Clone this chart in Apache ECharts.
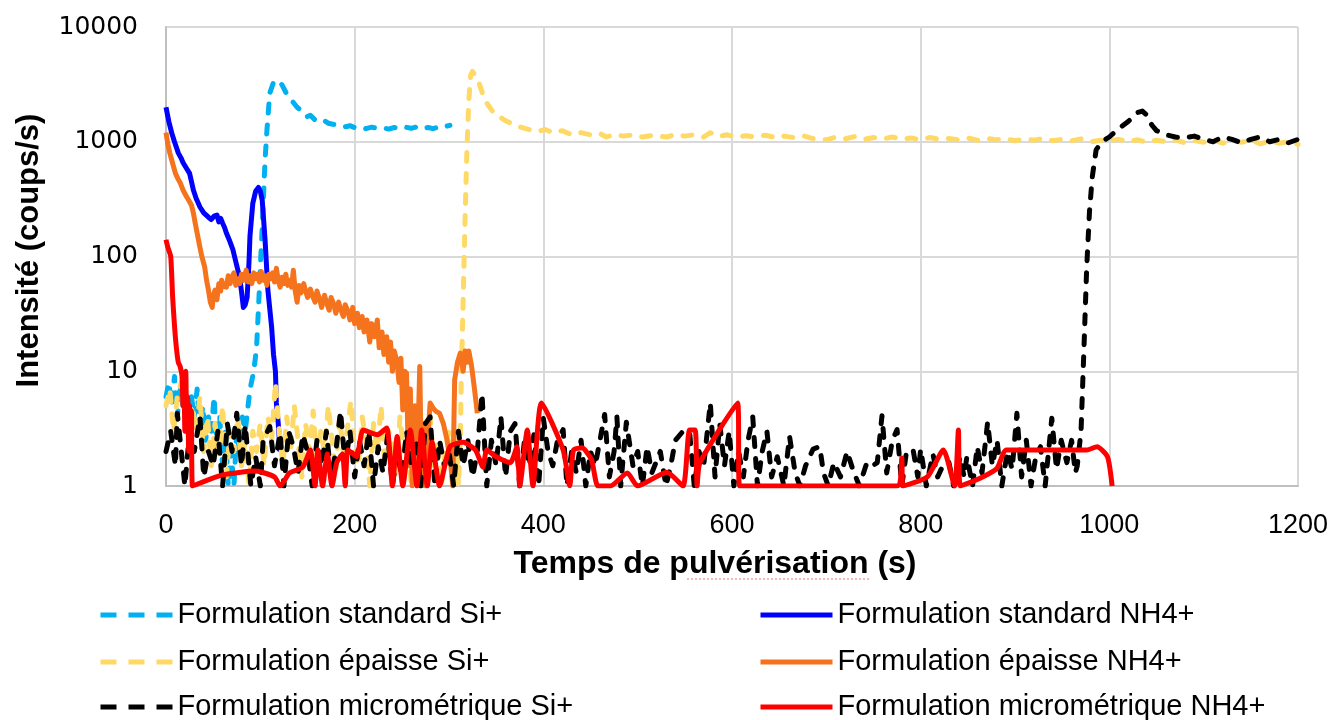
<!DOCTYPE html>
<html>
<head>
<meta charset="utf-8">
<script src="https://cdn.jsdelivr.net/npm/echarts@6/dist/echarts.min.js"></script>
<style>
  html, body { margin: 0; padding: 0; background: #fff; }
  #chart { width: 1333px; height: 720px; }
</style>
</head>
<body>
<div id="chart"></div>
<script>
// tick labels
var xTicks = [0, 200, 400, 600, 800, 1000, 1200];
var yTicks = [1, 10, 100, 1000, 10000];

// Formulation standard Si+  [temps (s), coups/s]
var stdSi = [
  [0,6],[3,8],[6,5],[9,9],[12,4],[15,7],[18,5],[21,6],[24,3],[27,6],[30,4],[33,7],[36,3],[39,5],
  [42,2.5],[45,4],[48,3],[51,6],[54,2],[57,4],[60,1.5],[63,3],[66,1],[69,2],[72,1],[75,3],[78,2],
  [81,4],[84,3],[87,5],[89,6.9],[93,10],[96,16],[98,35],[100,81],[102,180],[105,690],[107,1260],
  [110,2650],[114,3300],[117,3450],[120,3300],[123,3130],[127,2700],[131,2400],[135,2200],[139,2000],
  [144,1850],[149,1650],[153,1700],[158,1550],[163,1500],[167,1540],[172,1450],[177,1420],[184,1400],
  [190,1350],[195,1380],[200,1330],[206,1350],[212,1300],[218,1340],[224,1310],[230,1320],[236,1290],
  [242,1330],[248,1300],[254,1340],[260,1310],[266,1350],[272,1300],[278,1330],[283,1300],[288,1340],
  [293,1320],[298,1370],[301,1390]
];

// Formulation standard NH4+
var stdNH4 = [
  [0,2000],[3,1500],[6,1200],[9,1000],[13,800],[16,720],[18,660],[21,600],[25,530],[27,450],[29,380],
  [32,320],[36,270],[40,240],[45,220],[48,210],[51,225],[54,230],[56,200],[58,215],[60,195],[62,180],
  [64,160],[67,140],[71,114],[74,90],[78,66],[80,50],[82,36],[84,38],[86,44],[88,90],[89,150],[92,290],
  [95,370],[98,400],[100,370],[102,310],[105,140],[108,51],[112,24],[114,14],[116,10],[117,5.3],
  [119,3.5],[121,2]
];

// Formulation épaisse Si+
var epSi = [
  [0,5],[4,7],[8,3],[12,6],[16,8],[20,4],[24,2.5],[28,5],[32,3],[36,6],
  [40,2],[44,4],[48,1.5],[52,3.5],[56,2],[60,5],[64,1.2],[68,3],[72,2],[76,4],
  [80,1.5],[84,2.5],[88,1],[92,3],[96,2],[100,3.5],[104,1.5],[108,4],[112,2.5],[116,8],
  [120,3],[124,1.5],[128,4],[132,2],[136,5],[140,2.5],[144,1.2],[148,3.5],[152,2],[156,4.5],
  [160,1.5],[164,3],[168,2],[172,5],[176,2.5],[180,1.3],[184,4],[188,2],[192,3],[196,5.5],
  [200,2],[204,1.5],[208,4],[212,2.5],[216,1],[220,3.5],[224,2],[228,5],[232,1.5],[236,3],
  [240,2.5],[244,1.2],[248,4],[252,2],[256,3],[260,1],[264,2.5],[268,1.5],[272,3.5],[276,2],
  [280,4],[284,1.5],[288,2.5],[292,1],[296,2],[300,3],[304,1.5],[308,2.5],[310,1],[312,2.5],
  [313,8.4],[315,42],[317,208],[319,850],[321,2300],[323,3800],[325,4100],[331,3400],[338,2300],
  [347,1800],[359,1540],[372,1370],[386,1270],[394,1230],[402,1280],[410,1200],[420,1250],[430,1150],
  [440,1200],[450,1150],[460,1180],[467,1100],[475,1160],[485,1120],[495,1150],[505,1100],[515,1130],
  [531,1100],[540,1160],[550,1120],[560,1150],[570,1100],[577,1200],[585,1110],[595,1150],[605,1090],
  [615,1130],[625,1100],[635,1140],[648,1080],[655,1120],[665,1090],[675,1130],[685,1070],[700,1040],
  [710,1100],[720,1060],[730,1110],[740,1050],[750,1090],[760,1060],[770,1100],[780,1050],[790,1080],
  [800,1040],[810,1090],[820,1050],[830,1070],[840,1040],[850,1080],[860,1030],[870,1070],[880,1040],
  [890,1060],[900,1020],[910,1060],[920,1030],[930,1070],[940,1020],[950,1050],[960,1020],[970,1060],
  [980,1000],[990,1030],[1000,1020],[1010,1050],[1020,1000],[1030,1040],[1040,990],[1050,1030],
  [1060,1000],[1070,1040],[1080,980],[1090,1030],[1100,990],[1110,1040],[1120,970],[1130,1020],
  [1140,990],[1150,1030],[1160,960],[1170,1010],[1180,970],[1190,1000],[1200,950]
];

// Formulation épaisse NH4+
var epNH4 = [
  [0,1200],[2,950],[4,800],[7,650],[10,530],[13,470],[15,440],[18,380],[22,330],[25,300],[27,280],
  [29,240],[31,195],[33,160],[36,120],[38,100],[41,81],[43,62],[45,51],[47,40],[49,36],[50,45],[52,51],
  [54,42],[56,58],[58,50],[59,62],[61,55],[64,54],[66,68],[68,58],[70,66],[72,72],[74,56],[76,64],
  [78,58],[80,70],[82,62],[85,76],[87,60],[89,68],[91,58],[93,72],[95,64],[97,70],[99,60],[101,74],
  [103,62],[105,68],[107,56],[109,70],[111,64],[113,72],[115,60],[117,79],[119,62],[121,54],[123,66],
  [125,58],[127,70],[129,56],[131,62],[133,54],[135,76],[137,50],[139,40],[141,56],[143,48],[146,58],
  [148,50],[150,44],[153,52],[155,46],[158,40],[160,50],[163,42],[165,36],[168,46],[170,40],[173,34],
  [175,44],[178,38],[180,32],[183,40],[185,35],[188,30],[190,38],[193,33],[195,28],[198,36],[200,26],
  [203,32],[205,24],[208,30],[210,22],[213,28],[216,18],[218,26],[221,20],[224,28],[226,16],[229,22],
  [231,14],[234,20],[236,12],[238,18],[240,10],[242,15],[245,12],[247,8],[249,13],[251,4.6],[253,10],
  [255,9.6],[257,1.5],[259,7],[261,1],[264,5],[266,1.2],[269,11],[271,1],[273,3.5],[275,1],[278,3],
  [280,5.3],[283,4.8],[286,4.5],[290,4.3],[294,3.5],[298,2.5],[302,1.5],[304,1],[306,8.4],[309,12],
  [312,14.4],[315,10],[317,15],[319,12],[321,15],[324,11],[327,7],[330,4.3]
];

// Formulation micrométrique Si+
var microSi = [
  [0,2],[5,3],[10,1.5],[12,4.3],[15,2.5],[20,1],[25,3],[30,2],[36,4],[40,1.2],[45,2],
  [50,1.5],[55,3],[60,1],[65,3.5],[70,2],[75,4.3],[80,1.5],[84,3.4],[90,1],[95,1.8],
  [100,1],[103,2.5],[110,3.3],[115,1.5],[121,2.9],[125,1],[130,3],[135,2.2],[140,1.3],[145,2.8],
  [150,2],[155,1],[160,2.5],[165,1.5],[170,3],[175,1.2],[180,2],[185,4.5],[190,1.5],[195,3],
  [200,1.2],[205,2.5],[210,1.5],[215,3],[220,1],[225,2.2],[230,1.3],[235,2.8],[240,1],[245,2],
  [250,1.2],[255,3],[260,1.5],[265,2.5],[270,1],[275,3.5],[280,4],[285,1],[290,2.5],[295,1.5],
  [300,2],[305,1],[310,3],[315,1.5],[320,2.5],[325,1.2],[330,2],[335,6.4],[340,1],[345,2.5],
  [350,1.5],[355,4],[360,1.2],[365,3],[370,3.5],[375,1],[380,2.5],[385,1.5],[390,2.8],[395,1],
  [400,3.9],[405,2],[410,1.5],[415,2.5],[421,3.1],[425,1],[430,2],[435,1.3],[440,2.5],[445,1],
  [450,2],[455,1.5],[460,2.5],[465,4.2],[470,1.2],[475,2],[478,4],[482,1],[488,3.6],[495,1.5],
  [500,2],[505,1],[510,2.2],[515,1.3],[524,2],[530,1],[535,1.5],[540,2.5],[548,3],[555,3],
  [560,1],[565,2],[570,1.5],[577,5.3],[582,1.2],[587,3.5],[592,1.5],[597,3],[602,1],[607,2],
  [612,1.2],[617,2.5],[622,4],[627,1],[632,2],[637,3],[642,1.2],[648,1.8],[655,1],[661,2.7],
  [667,1.3],[672,1],[678,1.5],[686,2.1],[693,2.2],[697,1.3],[702,1],[708,1.6],[715,1.2],[722,2],
  [728,1.4],[735,1],[743,1.6],[749,1.5],[754,1.6],[759,4.1],[764,1.3],[770,2.5],[775,3.1],[780,1],
  [785,2],[792,2.06],[797,1.2],[800,2.1],[806,1],[813,1.9],[818,1.2],[825,1.6],[830,1.6],[835,1],
  [842,1.8],[846,1.2],[849,1.8],[855,1],[860,2.2],[865,1.3],[871,3.6],[876,1.5],[881,2.5],[886,1],
  [892,2],[897,1.4],[902,4.3],[907,1.2],[912,2.5],[917,1],[922,1.8],[927,2.2],[932,1],[939,3.9],
  [944,1.4],[949,2.5],[955,1.6],[960,2.5],[964,1.3],[966,1.5],[970,3],[973,15],[976,80],[979,250],
  [982,500],[986,850],[992,1000],[1000,1100],[1010,1300],[1020,1500],[1030,1800],[1035,1850],
  [1040,1700],[1045,1400],[1050,1250],[1060,1150],[1070,1100],[1080,1080],[1090,1120],[1100,1050],
  [1110,1000],[1120,1100],[1130,1050],[1140,980],[1150,1050],[1160,1100],[1170,1000],[1180,1050],
  [1190,980],[1200,1050]
];

// Formulation micrométrique NH4+
var microNH4 = [
  [0,140],[2,120],[5,100],[7,45],[9,25],[11,16],[13,12],[15,11],[17,9],[18,5],[19,8],[20,3],[21,10],
  [22,3],[23,6],[24,2],[25,5],[26,2.5],[27,4.5],[28,1],[60,1.25],[95,1.35],[115,1.2],[121,1],
  [131,1.3],[145,1.46],[153,2.06],[158,1],[161,2.06],[166,1],[171,1.9],[176,1],[181,1.6],[187,1.9],
  [190,1],[193,2.06],[202,1.8],[209,3.07],[224,2.8],[234,3.2],[240,1],[245,2.7],[251,1],[259,3.07],
  [266,1],[271,3.07],[277,1],[282,2.4],[290,1],[301,2.2],[315,2.4],[328,2.06],[336,1.46],[340,2.06],
  [350,1.8],[365,1.6],[372,2.2],[375,1],[383,3.07],[389,1],[398,5.3],[421,2.06],[428,1],[432,2.06],
  [441,2.15],[451,1.7],[458,1],[471,1],[489,1.3],[500,1],[531,1.32],[548,1],[555,3.07],[561,3.07],
  [563,1],[566,1.6],[606,5.3],[608,1],[775,1],[780,1.75],[781,1],[807,1.2],[824,2.06],[836,1],
  [840,3.07],[842,1],[863,1.17],[881,1.43],[891,2.06],[976,2.06],[987,2.2],[998,1.8],[1003,1]
];

var seriesNames = [
  'Formulation standard Si+', 'Formulation standard NH4+',
  'Formulation épaisse Si+', 'Formulation épaisse NH4+',
  'Formulation micrométrique Si+', 'Formulation micrométrique NH4+'
];
var seriesData = [stdSi, stdNH4, epSi, epNH4, microSi, microNH4];
var seriesColors = ['#00B0F0', '#0000FF', '#FFD966', '#F4731C', '#000000', '#FF0000'];
var seriesDashed = [true, false, true, false, true, false];

var font = "'Liberation Sans', Arial, sans-serif";

var chart = echarts.init(document.getElementById('chart'));

var series = seriesData.map(function (d, i) {
  return {
    name: seriesNames[i],
    type: 'line',
    data: d,
    symbol: 'none',
    smooth: i === 5 ? 0.2 : false,
    color: seriesColors[i],
    lineStyle: {
      color: seriesColors[i],
      width: 5,
      type: seriesDashed[i] ? [9, 12] : 'solid',
      cap: seriesDashed[i] ? 'round' : 'butt',
      join: 'round'
    }
  };
});

// one legend box per entry: two columns, three rows
var legendLeft = [98, 758];
var legendTop = [600, 647, 692];
var legends = seriesNames.map(function (name, i) {
  return {
    data: [name],
    left: legendLeft[i % 2],
    top: legendTop[Math.floor(i / 2)],
    padding: 0,
    itemWidth: 72,
    itemHeight: 14,
    itemStyle: { opacity: 0 },
    lineStyle: { width: 5, type: seriesDashed[i] ? [16, 12] : 'solid', cap: 'butt' },
    textStyle: { fontSize: 29, fontFamily: font, color: '#000', lineHeight: 30 }
  };
});

var option = {
  animation: false,
  backgroundColor: '#fff',
  grid: { left: 166, right: 35, top: 27, bottom: 234 },
  legend: legends,
  // spell-check squiggle under the axis title, as in the source screenshot
  graphic: [{
    type: 'line',
    shape: { x1: 687, y1: 579, x2: 870, y2: 579 },
    style: { stroke: '#F2A3A3', lineWidth: 1.5, lineDash: [2, 2] },
    silent: true
  }],
  xAxis: {
    type: 'value',
    min: xTicks[0],
    max: xTicks[xTicks.length - 1],
    interval: 200,
    name: 'Temps de pulvérisation (s)',
    nameLocation: 'middle',
    nameGap: 62,
    nameTextStyle: { fontSize: 32, fontWeight: 'bold', fontFamily: font, color: '#000', padding: [0, 34, 0, 0] },
    axisLine: { show: true, lineStyle: { color: '#BFBFBF', width: 2 } },
    axisTick: { show: false },
    axisLabel: { fontSize: 27, fontFamily: font, color: '#000', margin: 26, formatter: function (v) { return String(v); } },
    splitLine: { show: true, lineStyle: { color: '#D9D9D9', width: 2 } }
  },
  yAxis: {
    type: 'log',
    logBase: 10,
    min: yTicks[0],
    max: yTicks[yTicks.length - 1],
    name: 'Intensité (coups/s)',
    nameLocation: 'middle',
    nameRotate: 90,
    nameGap: 121,
    nameTextStyle: { fontSize: 31, fontWeight: 'bold', fontFamily: font, color: '#000', padding: [0, 0, 0, 12] },
    axisLine: { show: true, lineStyle: { color: '#BFBFBF', width: 2 } },
    axisTick: { show: false },
    axisLabel: { fontSize: 25, fontFamily: 'DejaVu Sans', color: '#000', margin: 28, formatter: function (v) { return String(v); } },
    splitLine: { show: true, lineStyle: { color: '#D9D9D9', width: 2 } }
  },
  series: series
};

chart.setOption(option);
</script>
</body>
</html>
